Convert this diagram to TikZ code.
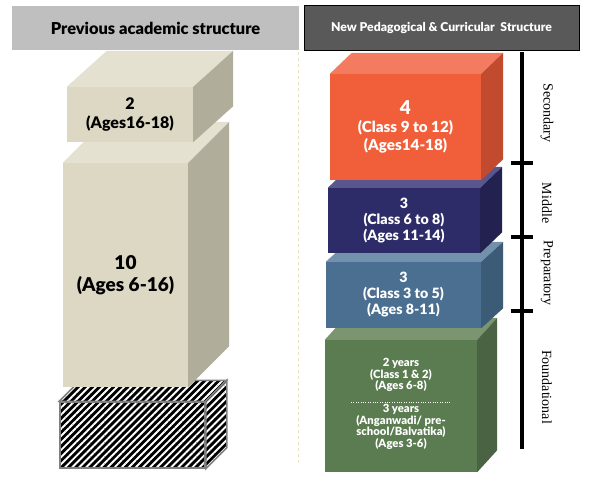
\documentclass[tikz,border=0pt]{standalone}
\usepackage{fontspec}
\setmainfont{Lato}[BoldFont={Lato Black}]
\newfontfamily\stagefont{Liberation Serif}
\usetikzlibrary{patterns.meta}

\definecolor{oldfront}{HTML}{DCD8C4}
\definecolor{oldtop}{HTML}{E4E1D0}
\definecolor{oldside}{HTML}{B0AE9B}
\definecolor{secfront}{HTML}{F05E3A}
\definecolor{sectop}{HTML}{F37C60}
\definecolor{secside}{HTML}{C24A2E}
\definecolor{midfront}{HTML}{2E2C68}
\definecolor{midtop}{HTML}{58568C}
\definecolor{midside}{HTML}{22214F}
\definecolor{prepfront}{HTML}{4A6F91}
\definecolor{preptop}{HTML}{7191AC}
\definecolor{prepside}{HTML}{3C5B77}
\definecolor{fndfront}{HTML}{5B7B50}
\definecolor{fndtop}{HTML}{7A9570}
\definecolor{fndside}{HTML}{4A6443}
\definecolor{sepline}{HTML}{E8E2C4}

\begin{document}
\begin{tikzpicture}[x=1pt, y=-1pt,
    front/.style={inner sep=0pt, align=center, font=\bfseries},
    oldtext/.style={text=black},
    newtext/.style={text=white},
    hatch/.style={preaction={fill=black}, pattern={Lines[angle=45,distance=5pt,line width=1.9pt]},
        pattern color=white, draw=gray, line width=1.5pt},
    header/.style={inner sep=0pt, align=center, font=\bfseries},
    stage/.style={rotate=-90, font=\stagefont\fontsize{14}{15}\selectfont},
    tick/.style={line width=4pt}
]
    \useasboundingbox[fill=white] (0,0) rectangle (591,497);

    % previous structure
    \node[hatch, minimum width=145, minimum height=66] (none) at (132.5,435) {};
    \draw[hatch] (none.north west) -- ++(21,-21) -- ([shift={(21,-21)}]none.north east) -- (none.north east) -- cycle;
    \draw[hatch] (none.north east) -- ++(21,-21) -- ([shift={(21,-21)}]none.south east) -- (none.south east) -- cycle;

    \node[front, oldtext, fill=oldfront, minimum width=125, minimum height=224,
        font=\bfseries\fontsize{19}{22}\selectfont] (ten) at (125.5,275) {10\\(Ages 6-16)};
    \fill[oldtop] (ten.north west) -- ++(41,-41) -- ([shift={(41,-41)}]ten.north east) -- (ten.north east) -- cycle;
    \fill[oldside] (ten.north east) -- ++(41,-41) -- ([shift={(41,-41)}]ten.south east) -- (ten.south east) -- cycle;

    \node[front, oldtext, fill=oldfront, minimum width=126, minimum height=55,
        font=\bfseries\fontsize{16}{19}\selectfont] (two) at (130,114.5) {2\\(Ages16-18)};
    \fill[oldtop] (two.north west) -- ++(40,-36) -- ([shift={(40,-36)}]two.north east) -- (two.north east) -- cycle;
    \fill[oldside] (two.north east) -- ++(40,-36) -- ([shift={(40,-36)}]two.south east) -- (two.south east) -- cycle;

    % new structure
    \node[front, fill=fndfront, minimum width=152, minimum height=132] (fnd) at (401,406) {};
    \fill[fndtop] (fnd.north west) -- ++(20,-22) -- ([shift={(20,-22)}]fnd.north east) -- (fnd.north east) -- cycle;
    \fill[fndside] (fnd.north east) -- ++(20,-22) -- ([shift={(20,-22)}]fnd.south east) -- (fnd.south east) -- cycle;
    \node[front, newtext, font=\bfseries\fontsize{11.3}{11.5}\selectfont] (fndA) at (401,375)
        {2 years\\(Class 1 \& 2)\\(Ages 6-8)};
    \node[front, newtext, font=\bfseries\fontsize{11.3}{11.5}\selectfont] (fndB) at (401,427)
        {3 years\\(Anganwadi/ pre-\\school/Balvatika)\\(Ages 3-6)};
    \coordinate (dotL) at (351,402);
    \coordinate (dotR) at (450,402);
    \draw[white, line width=1pt, dash pattern=on 0.8pt off 1.6pt] (dotL) -- (dotR);

    \node[front, newtext, fill=prepfront, minimum width=155, minimum height=66,
        font=\bfseries\fontsize{14.2}{16}\selectfont] (prep) at (403.5,295) {3\\(Class 3 to 5)\\(Ages 8-11)};
    \fill[preptop] (prep.north west) -- ++(22,-20) -- ([shift={(22,-20)}]prep.north east) -- (prep.north east) -- cycle;
    \fill[prepside] (prep.north east) -- ++(22,-20) -- ([shift={(22,-20)}]prep.south east) -- (prep.south east) -- cycle;

    \node[front, newtext, fill=midfront, minimum width=152, minimum height=65,
        font=\bfseries\fontsize{14.2}{16}\selectfont] (mid) at (404,220.5) {3\\(Class 6 to 8)\\(Ages 11-14)};
    \fill[midtop] (mid.north west) -- ++(22,-21) -- ([shift={(22,-21)}]mid.north east) -- (mid.north east) -- cycle;
    \fill[midside] (mid.north east) -- ++(22,-21) -- ([shift={(22,-21)}]mid.south east) -- (mid.south east) -- cycle;

    \node[front, newtext, fill=secfront, minimum width=151, minimum height=106,
        font=\bfseries\fontsize{15.2}{18}\selectfont] (sec) at (405.5,127)
        {{\fontsize{19}{20}\selectfont 4}\\(Class 9 to 12)\\(Ages14-18)};
    \fill[sectop] (sec.north west) -- ++(22,-21) -- ([shift={(22,-21)}]sec.north east) -- (sec.north east) -- cycle;
    \fill[secside] (sec.north east) -- ++(22,-21) -- ([shift={(22,-21)}]sec.south east) -- (sec.south east) -- cycle;

    % headers
    \node[header, fill=black!25, minimum width=287, minimum height=44,
        font=\bfseries\fontsize{16.4}{18}\selectfont] (oldhead) at (155.5,28) {Previous academic structure};
    \node[header, fill=black!65, draw=black, line width=1pt, text=white, minimum width=275, minimum height=45,
        font=\bfseries\fontsize{12.2}{13}\selectfont] (newhead) at (441.5,28.5) {New Pedagogical \& Curricular\ \ Structure};

    % separator
    \coordinate (sepTop) at (298,52);
    \coordinate (sepBot) at (298,462);
    \draw[sepline, line width=1pt, dashed] (sepTop) -- (sepBot);

    % stages
    \coordinate (tlTop) at (522,52);
    \coordinate (tlBot) at (522,449);
    \draw[line width=4pt] (tlTop) -- (tlBot);
    \foreach \y [count=\i] in {163,237,311} {
        \coordinate (tickL\i) at (511,\y);
        \coordinate (tickR\i) at (533,\y);
        \draw[tick] (tickL\i) -- (tickR\i);
    }
    \node[stage] (secondary) at (547,113) {Secondary};
    \node[stage] (middle) at (547,203) {Middle};
    \node[stage] (preparatory) at (547,273) {Preparatory};
    \node[stage] (foundational) at (547,387) {Foundational};
\end{tikzpicture}
\end{document}
